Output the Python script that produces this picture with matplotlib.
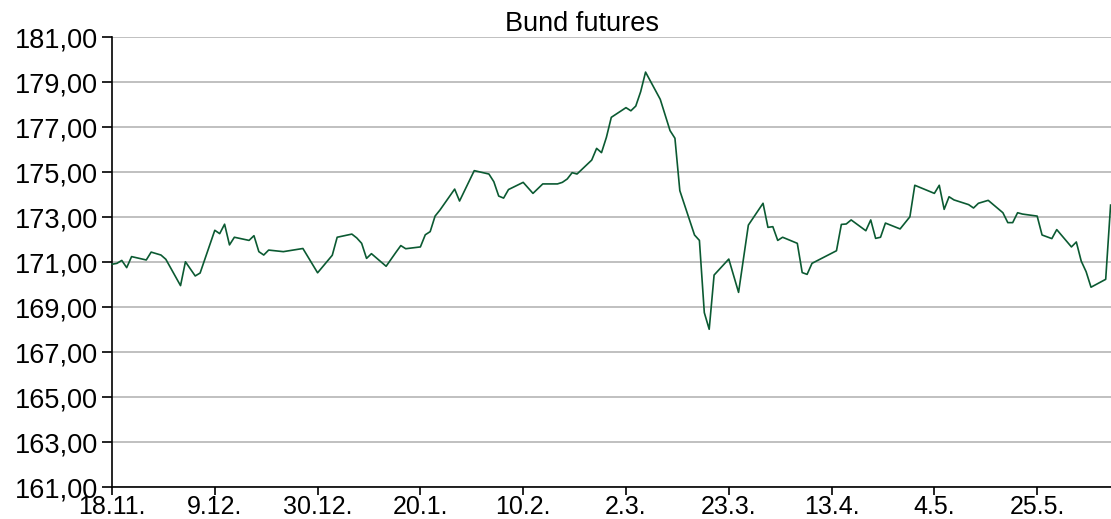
import matplotlib
matplotlib.use("Agg")
import matplotlib.pyplot as plt
import matplotlib.dates as mdates
import pandas as pd
from matplotlib.ticker import FuncFormatter

plt.rcParams['font.family'] = ['Liberation Sans', 'DejaVu Sans']

title = 'Bund futures'

dates = [
    '2019-11-18', '2019-11-19', '2019-11-20', '2019-11-21', '2019-11-22',
    '2019-11-25', '2019-11-26', '2019-11-28', '2019-11-29', '2019-12-02',
    '2019-12-03', '2019-12-05', '2019-12-06', '2019-12-09', '2019-12-10',
    '2019-12-11', '2019-12-12', '2019-12-13', '2019-12-16', '2019-12-17',
    '2019-12-18', '2019-12-19', '2019-12-20', '2019-12-23', '2019-12-27',
    '2019-12-30', '2020-01-02', '2020-01-03', '2020-01-06', '2020-01-07',
    '2020-01-08', '2020-01-09', '2020-01-10', '2020-01-13', '2020-01-15',
    '2020-01-16', '2020-01-17', '2020-01-20', '2020-01-21', '2020-01-22',
    '2020-01-23', '2020-01-24', '2020-01-27', '2020-01-28', '2020-01-31',
    '2020-02-03', '2020-02-04', '2020-02-05', '2020-02-06', '2020-02-07',
    '2020-02-10', '2020-02-12', '2020-02-14', '2020-02-17', '2020-02-18',
    '2020-02-19', '2020-02-20', '2020-02-21', '2020-02-24', '2020-02-25',
    '2020-02-26', '2020-02-27', '2020-02-28', '2020-03-02', '2020-03-03',
    '2020-03-04', '2020-03-05', '2020-03-06', '2020-03-09', '2020-03-11',
    '2020-03-12', '2020-03-13', '2020-03-16', '2020-03-17', '2020-03-18',
    '2020-03-19', '2020-03-20', '2020-03-23', '2020-03-25', '2020-03-27',
    '2020-03-30', '2020-03-31', '2020-04-01', '2020-04-02', '2020-04-03',
    '2020-04-06', '2020-04-07', '2020-04-08', '2020-04-09', '2020-04-14',
    '2020-04-15', '2020-04-16', '2020-04-17', '2020-04-20', '2020-04-21',
    '2020-04-22', '2020-04-23', '2020-04-24', '2020-04-27', '2020-04-29',
    '2020-04-30', '2020-05-04', '2020-05-05', '2020-05-06', '2020-05-07',
    '2020-05-08', '2020-05-11', '2020-05-12', '2020-05-13', '2020-05-15',
    '2020-05-18', '2020-05-19', '2020-05-20', '2020-05-21', '2020-05-22',
    '2020-05-25', '2020-05-26', '2020-05-28', '2020-05-29', '2020-06-01',
    '2020-06-02', '2020-06-03', '2020-06-04', '2020-06-05', '2020-06-08',
    '2020-06-09',
]

prices = [
    170.90, 170.94, 171.07, 170.75, 171.24,
    171.09, 171.44, 171.31, 171.12, 169.95,
    171.01, 170.38, 170.51, 172.41, 172.26,
    172.68, 171.76, 172.10, 171.96, 172.17,
    171.46, 171.31, 171.53, 171.46, 171.60,
    170.52, 171.30, 172.10, 172.24, 172.07,
    171.83, 171.16, 171.37, 170.81, 171.43,
    171.73, 171.59, 171.67, 172.21, 172.35,
    173.04, 173.31, 174.24, 173.71, 175.06,
    174.91, 174.57, 173.93, 173.84, 174.22,
    174.54, 174.05, 174.47, 174.47, 174.54,
    174.69, 174.97, 174.91, 175.53, 176.05,
    175.86, 176.54, 177.43, 177.86, 177.72,
    177.93, 178.57, 179.44, 178.23, 176.84,
    176.50, 174.17, 172.20, 171.96, 168.75,
    168.01, 170.42, 171.13, 169.65, 172.64,
    173.61, 172.54, 172.57, 171.96, 172.10,
    171.83, 170.53, 170.45, 170.94, 171.50,
    172.67, 172.69, 172.87, 172.39, 172.87,
    172.05, 172.10, 172.73, 172.47, 173.01,
    174.41, 174.05, 174.41, 173.34, 173.90,
    173.76, 173.55, 173.40, 173.61, 173.74,
    173.19, 172.75, 172.75, 173.19, 173.13,
    173.04, 172.20, 172.04, 172.44, 171.67,
    171.89, 171.04, 170.57, 169.88, 170.23,
    173.53,
]

y_ticks = [161, 163, 165, 167, 169, 171, 173, 175, 177, 179, 181]

x = pd.to_datetime(dates)
tick_dates = pd.date_range('2019-11-18', periods=10, freq='21D')

fig = plt.figure(figsize=(11.11, 5.19), dpi=100)
ax = fig.add_axes([112 / 1111, 1 - 487 / 519, 1 - 112 / 1111, 450 / 519])

ax.plot(x, prices, color='#0b5a32', lw=1.2, zorder=3, clip_on=False)

ax.set_ylim(y_ticks[0], y_ticks[-1])
ax.set_yticks(y_ticks)
ax.yaxis.set_major_formatter(FuncFormatter(lambda v, p: f'{v:.2f}'.replace('.', ',')))
ax.grid(axis='y', color='#c0c0c0', lw=1.4)
ax.set_axisbelow(True)

ax.set_xlim(x[0], x[-1] + pd.Timedelta(hours=2))
ax.set_xticks(tick_dates)
ax.xaxis.set_major_formatter(FuncFormatter(
    lambda v, p: f'{mdates.num2date(v).day}.{mdates.num2date(v).month}.'))

for s in ['top', 'right']:
    ax.spines[s].set_visible(False)
for s in ['left', 'bottom']:
    ax.spines[s].set_color('black')
    ax.spines[s].set_linewidth(1.2)

ax.tick_params(axis='y', labelsize=19.5, colors='black', width=1.2, length=7, pad=3)
ax.tick_params(axis='x', labelsize=18, colors='black', width=1.2, length=6, pad=0)

fig.text(582 / 1111, 1 - 24 / 519, title, ha='center', va='center', fontsize=19.5)

fig.savefig('out.png', dpi=100)
